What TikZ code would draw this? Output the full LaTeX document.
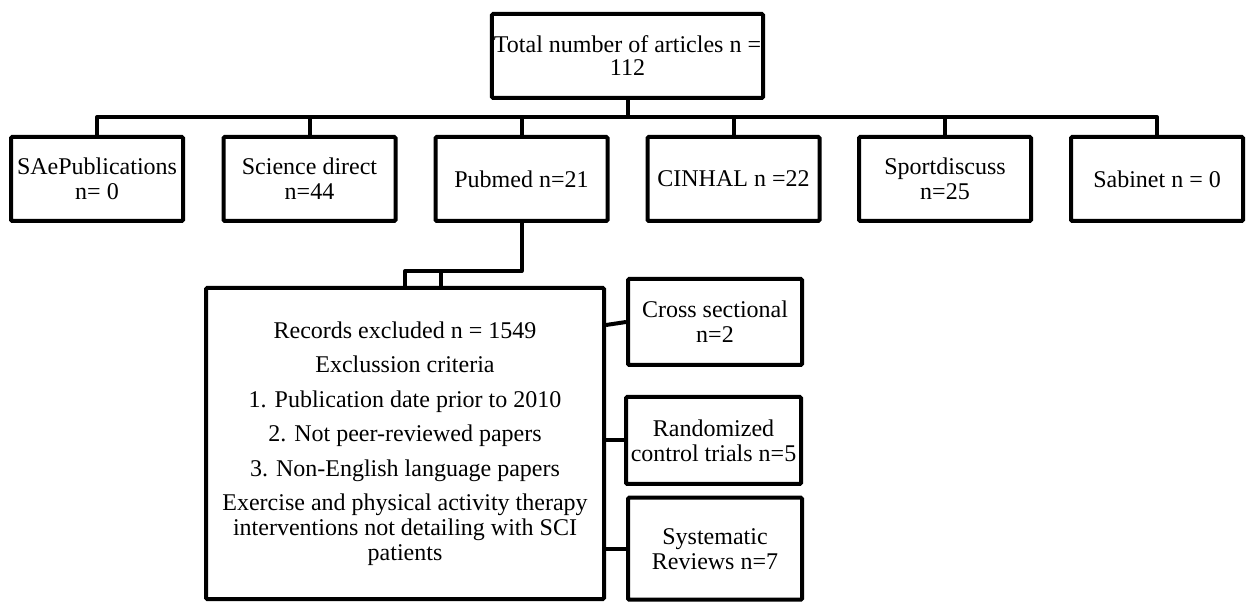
\documentclass[tikz,border=0pt]{standalone}
\usepackage{fontspec}
\setmainfont{Liberation Serif}

\begin{document}
\begin{tikzpicture}[
  x=0.5pt, y=-0.5pt,
  link/.style = {line width=2pt, line join=round},
  box/.style = {draw, line width=2pt, rounded corners=0.6pt, align=center, inner sep=1pt,
    font=\fontsize{12}{12.5}\selectfont, minimum width=86pt, minimum height=42pt},
  sidebox/.style = {box, minimum width=87pt, minimum height=43pt}
  ]
	\useasboundingbox (0,0) rectangle (1247,603);

	\node[box, minimum width=135.5pt, font=\fontsize{12}{11.5}\selectfont] (total) at (627.5,56) {Total number of articles n =\\112};

	\node[box] (sae) at (97,179)    {SAePublications\\n= 0};
	\node[box] (sci) at (309.5,179) {Science direct\\n=44};
	\node[box] (pub) at (521.5,179) {Pubmed n=21};
	\node[box] (cin) at (733.5,179) {CINHAL n =22};
	\node[box] (spo) at (945,179)   {Sportdiscuss\\n=25};
	\node[box] (sab) at (1157,179)  {Sabinet n = 0};

	\node[box, minimum width=199pt, minimum height=155.5pt] (excl) at (405,443.5)
	  {Records excluded n = 1549\\[4.75pt]
	   Exclussion criteria\\[4.75pt]
	   1. Publication date prior to 2010\\[4.75pt]
	   2. Not peer-reviewed papers\\[4.75pt]
	   3. Non-English language papers\\[4.75pt]
	   Exercise and physical activity therapy\\
	   interventions not detailing with SCI\\
	   patients};

	\node[sidebox] (cross) at (715,322) {Cross sectional\\n=2};
	\node[sidebox, minimum width=87.5pt, minimum height=43.5pt] (rct) at (713.5,440.5) {Randomized\\control trials n=5};
	\node[sidebox, minimum height=51pt] (sys) at (715,548.7) {Systematic\\Reviews n=7};

	\coordinate (@bar) at (627.5,117);
	\coordinate (@k1) at (405,271);
	\coordinate (@k2) at (441,271);

	\draw[link] (total.south) -- (@bar);
	\draw[link] (sae.north) |- (@bar) -| (sab.north);
	\foreach \n in {sci,pub,cin,spo}
	  \draw[link] (\n.north) -- (\n.north |- @bar);

	\draw[link] (pub.south) |- (@k1) -- (@k1 |- excl.north);
	\draw[link] (@k2) -- (@k2 |- excl.north);

	\draw[link] ([yshift=-19.5pt]excl.north east) -- (cross.west);
	\draw[link] (excl.east |- rct.west) -- (rct.west);
	\draw[link] (excl.east |- sys.west) -- (sys.west);

\end{tikzpicture}
\end{document}
